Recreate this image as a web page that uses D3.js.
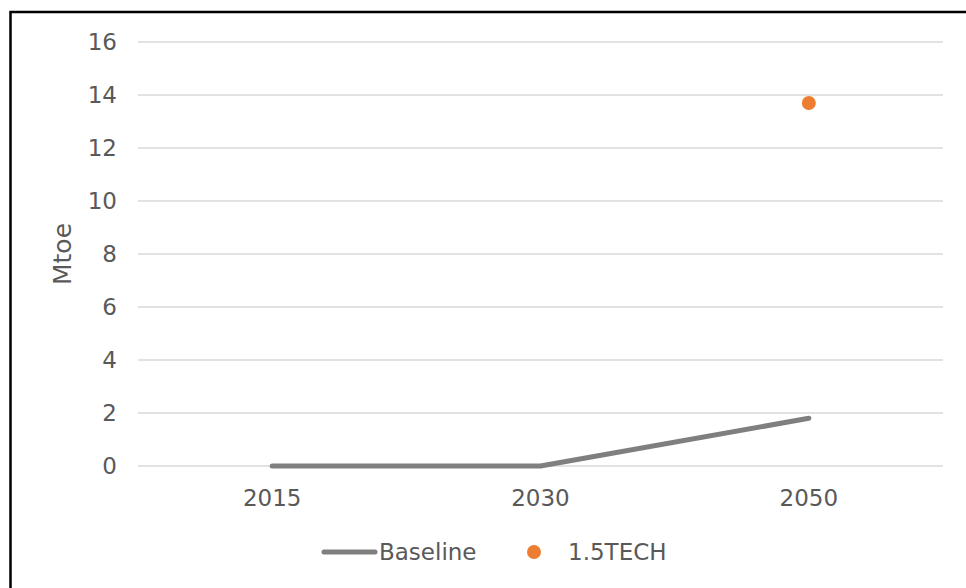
<!DOCTYPE html>
<html><head><meta charset="utf-8">
<script src="https://cdn.jsdelivr.net/npm/d3@7"></script>
<style>body{margin:0;background:#fff}svg{display:block}</style>
</head><body>
<script>
const categories = ["2015", "2030", "2050"];
const baseline = [0, 0, 1.8];
const tech15 = [null, null, 13.7];
const yTicks = [0, 2, 4, 6, 8, 10, 12, 14, 16];
const yLabel = "Mtoe";
const seriesNames = ["Baseline", "1.5TECH"];

(function () {
const W = 966, H = 588;
const svg = d3.select("body").append("svg").attr("width", W).attr("height", H);
svg.append("rect").attr("x", 0).attr("y", 0).attr("width", W).attr("height", H).attr("fill", "#fff");
// border (top and left visible)
svg.append("path").attr("d", `M10.5,${H} L10.5,12 L${W},12`).attr("fill", "none").attr("stroke", "#000").attr("stroke-width", 2.5);

const pL = 138, pR = 943, pT = 42, pB = 466;
const x = d3.scaleBand().domain(categories).range([pL, pR]);
const y = d3.scaleLinear().domain([0, 16]).range([pB, pT]);
const font = "'DejaVu Sans', Verdana, sans-serif";
const txt = "#595959";
const fs = 23;

const gy = svg.append("g");
yTicks.forEach(t => {
  gy.append("line").attr("x1", pL).attr("x2", pR).attr("y1", y(t)).attr("y2", y(t))
    .attr("stroke", "#d9d9d9").attr("stroke-width", 1.5);
  gy.append("text").attr("x", 117).attr("y", y(t)).attr("dy", "0.36em").attr("text-anchor", "end")
    .attr("font-family", font).attr("font-size", fs).attr("fill", txt).text(t);
});
categories.forEach(c => {
  svg.append("text").attr("x", x(c) + x.bandwidth() / 2).attr("y", 506).attr("text-anchor", "middle")
    .attr("font-family", font).attr("font-size", fs).attr("fill", txt).text(c);
});
svg.append("text").attr("transform", `translate(71,${(pT + pB) / 2}) rotate(-90)`)
  .attr("text-anchor", "middle").attr("font-family", font).attr("font-size", 25).attr("fill", txt).text(yLabel);

const cx = c => x(c) + x.bandwidth() / 2;
const line = d3.line().x((d, i) => cx(categories[i])).y(d => y(d));
svg.append("path").datum(baseline).attr("d", line).attr("fill", "none")
  .attr("stroke", "#7f7f7f").attr("stroke-width", 5).attr("stroke-linecap", "round").attr("stroke-linejoin", "round");
svg.selectAll("circle.t").data(tech15.map((v, i) => ({v, c: categories[i]})).filter(d => d.v != null))
  .enter().append("circle").attr("cx", d => cx(d.c)).attr("cy", d => y(d.v)).attr("r", 7).attr("fill", "#ED7D31");

// legend
const ly = 552;
svg.append("line").attr("x1", 324).attr("x2", 375).attr("y1", ly).attr("y2", ly)
  .attr("stroke", "#7f7f7f").attr("stroke-width", 5).attr("stroke-linecap", "round");
svg.append("text").attr("x", 379).attr("y", ly).attr("dy", "0.36em").attr("font-family", font)
  .attr("font-size", fs).attr("fill", txt).text(seriesNames[0]);
svg.append("circle").attr("cx", 534).attr("cy", ly).attr("r", 7).attr("fill", "#ED7D31");
svg.append("text").attr("x", 568).attr("y", ly).attr("dy", "0.36em").attr("font-family", font)
  .attr("font-size", fs).attr("fill", txt).text(seriesNames[1]);
})();
</script>
</body></html>
